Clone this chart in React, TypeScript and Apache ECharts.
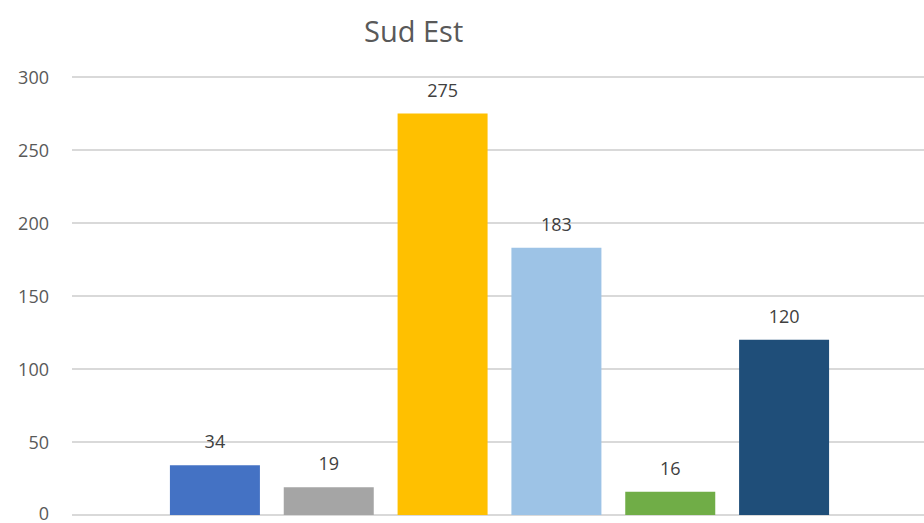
import React, { useEffect, useRef } from "react";
import * as echarts from "echarts";

const titleText = "Sud Est";
const categories = ["1", "2", "3", "4", "5", "6"];
const values = [34, 19, 275, 183, 16, 120];
const barColors = ["#4472C4", "#A5A5A5", "#FFC000", "#9DC3E6", "#70AD47", "#1F4E79"];
const yTicks = { min: 0, max: 300, interval: 50 };

const FONT = "'Open Sans', 'Liberation Sans', sans-serif";

export default function App() {
  const ref = useRef<HTMLDivElement>(null);
  useEffect(() => {
    if (!ref.current) return;
    const chart = echarts.init(ref.current, undefined, { renderer: "svg" });
    chart.setOption({
      animation: false,
      backgroundColor: "#ffffff",
      title: {
        text: titleText,
        left: 359,
        top: 11,
        textStyle: { fontFamily: FONT, fontSize: 29, fontWeight: "normal", color: "#595959" },
      },
      grid: [
        { left: 72, right: 0, top: 77, bottom: 8, outerBoundsMode: "none", containLabel: false },
        { left: 158, width: 683, top: 77, bottom: 8, outerBoundsMode: "none", containLabel: false },
      ],
      xAxis: [
        { gridIndex: 0, type: "value", min: 0, max: 1, show: false },
        { gridIndex: 1, type: "category", data: categories, show: false },
      ],
      yAxis: [
        {
          gridIndex: 0,
          type: "value",
          min: yTicks.min,
          max: yTicks.max,
          interval: yTicks.interval,
          axisLine: { show: false },
          axisTick: { show: false },
          axisLabel: {
            fontFamily: FONT,
            fontSize: 18,
            lineHeight: 15,
            color: "#595959",
            margin: 23,
            formatter: (v: number) => (v === 0 ? "{z|0}" : String(v)),
            rich: {
              z: { fontFamily: FONT, fontSize: 18, lineHeight: 15, color: "#595959", padding: [0, 0, 5, 0] },
            },
          },
          splitLine: { lineStyle: { color: "#D9D9D9", width: 2 } },
        },
        { gridIndex: 1, type: "value", min: yTicks.min, max: yTicks.max, show: false },
      ],
      series: [
        {
          type: "bar",
          xAxisIndex: 1,
          yAxisIndex: 1,
          barWidth: 90,
          data: values.map((v, i) => ({ value: v, itemStyle: { color: barColors[i] } })),
          label: {
            show: true,
            position: "top",
            distance: 15,
            fontFamily: FONT,
            fontSize: 18,
            color: "#404040",
          },
        },
      ],
    });
    return () => chart.dispose();
  }, []);
  return <div ref={ref} style={{ position: "fixed", left: 0, top: 0, width: 924, height: 523 }} />;
}
